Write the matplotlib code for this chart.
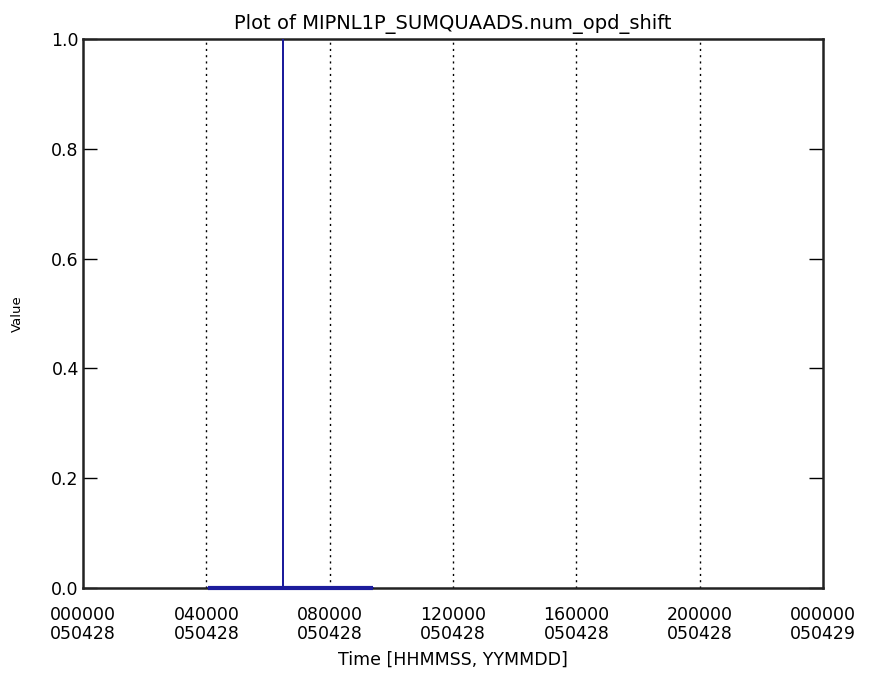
import matplotlib
matplotlib.use("Agg")
import matplotlib.pyplot as plt
import numpy as np

title = "Plot of MIPNL1P_SUMQUAADS.num_opd_shift"
xlabel = "Time [HHMMSS, YYMMDD]"
ylabel = "Value"

# time in hours since 050428 000000
time_hours = [4.05, 6.49, 6.49, 6.50, 6.50, 9.40]
values = [0.0, 0.0, 1.0, 1.0, 0.0, 0.0]

xtick_hours = [0, 4, 8, 12, 16, 20, 24]
xtick_labels = ["000000\n050428", "040000\n050428", "080000\n050428",
                "120000\n050428", "160000\n050428", "200000\n050428",
                "000000\n050429"]
grid_hours = [4, 8, 12, 16, 20]
ytick_values = [0.0, 0.2, 0.4, 0.6, 0.8, 1.0]
ytick_labels = ["0.0", "0.2", "0.4", "0.6", "0.8", "1.0"]

W, H = 873, 675
fig = plt.figure(figsize=(W / 100, H / 100), dpi=100)
left, right, top, bottom = 83, 823, 39, 588
ax = fig.add_axes([left / W, 1 - bottom / H, (right - left) / W, (bottom - top) / H])

ax.set_xlim(0, 24)
ax.set_ylim(0, 1)

for g in grid_hours:
    ax.axvline(g, color="black", linestyle=(0, (1.5, 3)), linewidth=1.0, zorder=1)

ax.plot(time_hours, values, color="#1c1c9c", linewidth=1.4, zorder=3, clip_on=True)
# thick baseline portion
ax.plot([time_hours[0], time_hours[-1]], [0, 0], color="#1c1c9c", linewidth=3.0,
        zorder=4, clip_on=False, solid_capstyle="butt")

for s in ax.spines.values():
    s.set_linewidth(1.8)
    s.set_color("#222222")

ax.set_xticks(xtick_hours)
ax.set_xticklabels(xtick_labels, fontsize=12.5, linespacing=1.05)
ax.tick_params(axis="x", length=0, pad=13)
ax.set_yticks(ytick_values)
ax.set_yticklabels(ytick_labels, fontsize=12.5)
ax.tick_params(axis="y", direction="in", length=10, width=1.0, left=True, right=True, pad=3)

ax.set_xlabel(xlabel, fontsize=12.5, labelpad=6)
ax.set_ylabel(ylabel, fontsize=9.5, labelpad=20)
ax.set_title(title, fontsize=14, pad=7)

fig.savefig("out.png", dpi=100)
